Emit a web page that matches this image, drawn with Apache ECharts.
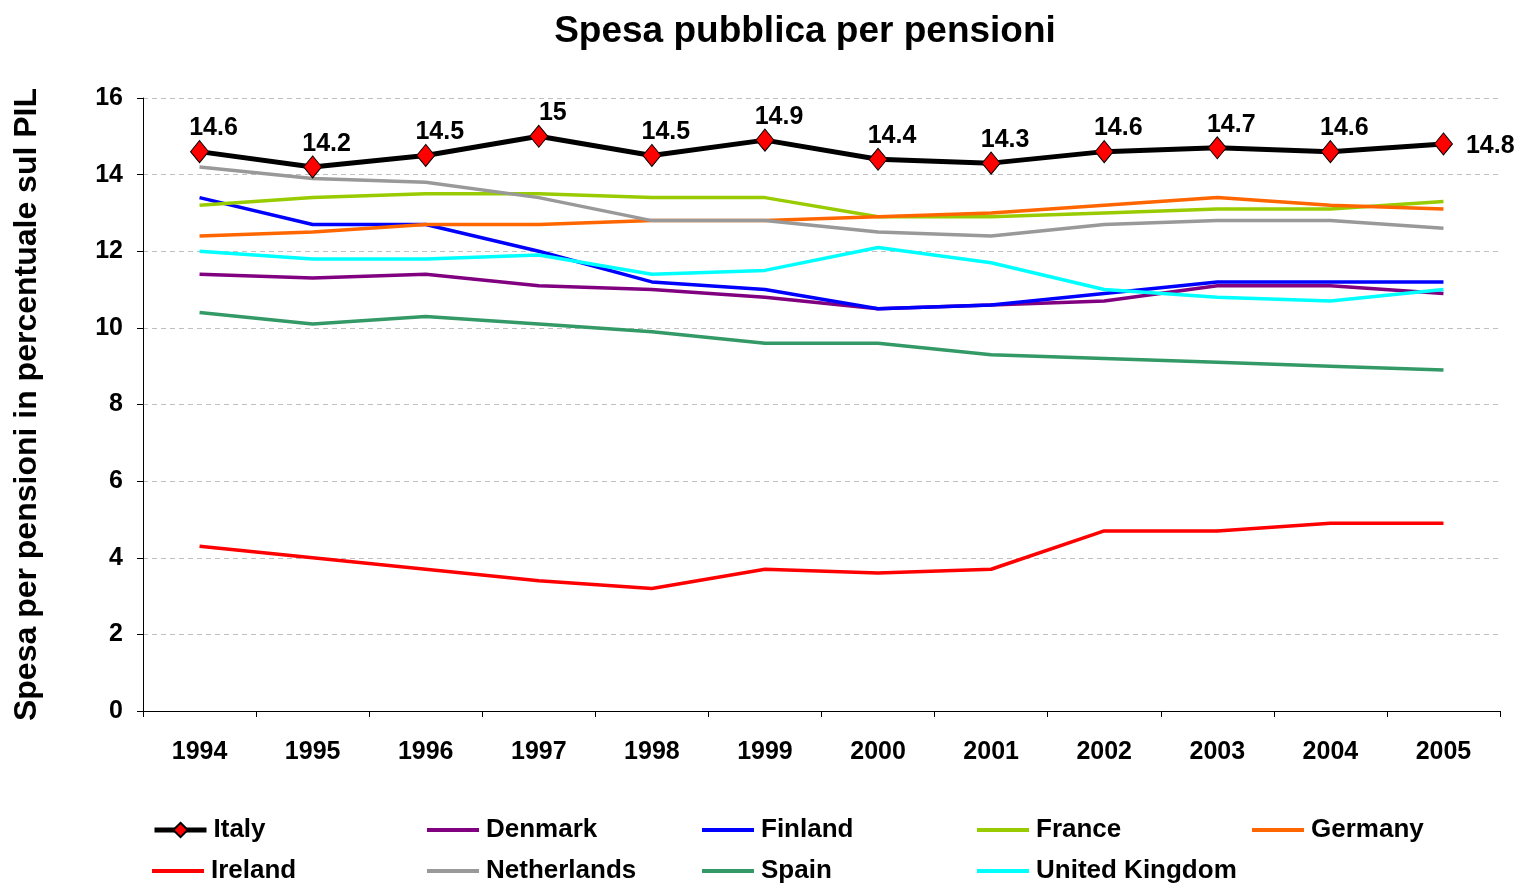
<!DOCTYPE html>
<html>
<head>
<meta charset="utf-8">
<script src="https://cdn.jsdelivr.net/npm/echarts@6/dist/echarts.min.js"></script>
<style>
  html, body { margin: 0; padding: 0; background: #fff; }
  #chart { width: 1520px; height: 883px; }
</style>
</head>
<body>
<div id="chart"></div>
<script>
var years = ['1994', '1995', '1996', '1997', '1998', '1999', '2000', '2001', '2002', '2003', '2004', '2005']
var italy = [14.6, 14.2, 14.5, 15, 14.5, 14.9, 14.4, 14.3, 14.6, 14.7, 14.6, 14.8]
var denmark = [11.4, 11.3, 11.4, 11.1, 11.0, 10.8, 10.5, 10.6, 10.7, 11.1, 11.1, 10.9]
var finland = [13.4, 12.7, 12.7, 12.0, 11.2, 11.0, 10.5, 10.6, 10.9, 11.2, 11.2, 11.2]
var france = [13.2, 13.4, 13.5, 13.5, 13.4, 13.4, 12.9, 12.9, 13.0, 13.1, 13.1, 13.3]
var germany = [12.4, 12.5, 12.7, 12.7, 12.8, 12.8, 12.9, 13.0, 13.2, 13.4, 13.2, 13.1]
var ireland = [4.3, 4.0, 3.7, 3.4, 3.2, 3.7, 3.6, 3.7, 4.7, 4.7, 4.9, 4.9]
var netherlands = [14.2, 13.9, 13.8, 13.4, 12.8, 12.8, 12.5, 12.4, 12.7, 12.8, 12.8, 12.6]
var spain = [10.4, 10.1, 10.3, 10.1, 9.9, 9.6, 9.6, 9.3, 9.2, 9.1, 9.0, 8.9]
var uk = [12.0, 11.8, 11.8, 11.9, 11.4, 11.5, 12.1, 11.7, 11.0, 10.8, 10.7, 11.0]

var names = ['Italy', 'Denmark', 'Finland', 'France', 'Germany', 'Ireland', 'Netherlands', 'Spain', 'United Kingdom']

var font = 'Liberation Sans, Arial, sans-serif'

function plain (name, data, color) {
  return {
    name: name,
    type: 'line',
    data: data,
    symbol: 'none',
    lineStyle: { color: color, width: 3.5 },
    itemStyle: { color: color },
    z: 2
  }
}

// one legend per entry, laid out in a 5-column grid like the original
var legends = names.map(function (n, i) {
  var col = i % 5
  var row = Math.floor(i / 5)
  var isItaly = n === 'Italy'
  return {
    data: [isItaly ? n : { name: n, icon: 'rect' }],
    left: 152 + col * 275,
    top: row === 0 ? 817 : 858,
    itemWidth: 52,
    itemHeight: isItaly ? 18 : 4,
    itemGap: 0,
    selectedMode: false,
    padding: 0,
    lineStyle: { width: 5 },
    textStyle: { fontFamily: font, fontSize: 26, fontWeight: 'bold', color: '#000', padding: [0, 0, 0, 2] }
  }
})

var italyData = italy.map(function (v, i) {
  if (i === italy.length - 1) {
    return { value: v, label: { position: 'right', offset: [8, 2] } }
  }
  return v
})

var chart = echarts.init(document.getElementById('chart'))
chart.setOption({
  animation: false,
  backgroundColor: '#fff',
  title: {
    text: 'Spesa pubblica per pensioni',
    left: 800,
    top: 8,
    textAlign: 'center',
    textStyle: { fontFamily: font, fontSize: 37, fontWeight: 'bold', color: '#000' }
  },
  grid: { left: 143, right: 20, top: 98, bottom: 172 },
  legend: legends,
  xAxis: {
    type: 'category',
    data: years,
    boundaryGap: true,
    axisLine: { lineStyle: { color: '#000', width: 1 } },
    axisTick: { show: true, length: 6, lineStyle: { color: '#000' } },
    axisLabel: { fontFamily: font, fontSize: 25, fontWeight: 'bold', color: '#000', margin: 29 }
  },
  yAxis: {
    type: 'value',
    min: 0,
    max: 16,
    interval: 2,
    name: 'Spesa per pensioni in percentuale sul PIL',
    nameLocation: 'middle',
    nameGap: 100,
    nameTextStyle: { fontFamily: font, fontSize: 32, fontWeight: 'bold', color: '#000' },
    axisLine: { show: true, lineStyle: { color: '#000', width: 1 } },
    axisTick: { show: true, length: 6, lineStyle: { color: '#000' } },
    axisLabel: { fontFamily: font, fontSize: 25, fontWeight: 'bold', color: '#000', margin: 20 },
    splitLine: { lineStyle: { color: '#c0c0c0', type: [5, 4], width: 1 } }
  },
  series: [
    {
      name: 'Italy',
      type: 'line',
      data: italyData,
      symbol: 'diamond',
      symbolSize: [18, 22],
      lineStyle: { color: '#000', width: 5 },
      itemStyle: { color: '#ff0000', borderColor: '#000', borderWidth: 1 },
      label: {
        show: true,
        position: 'top',
        offset: [14, 6],
        fontFamily: font,
        fontSize: 25,
        fontWeight: 'bold',
        color: '#000'
      },
      z: 5
    },
    plain('Denmark', denmark, '#800080'),
    plain('Finland', finland, '#0000ff'),
    plain('France', france, '#99cc00'),
    plain('Germany', germany, '#ff6600'),
    plain('Ireland', ireland, '#ff0000'),
    plain('Netherlands', netherlands, '#999999'),
    plain('Spain', spain, '#339966'),
    plain('United Kingdom', uk, '#00ffff')
  ]
})
</script>
</body>
</html>
